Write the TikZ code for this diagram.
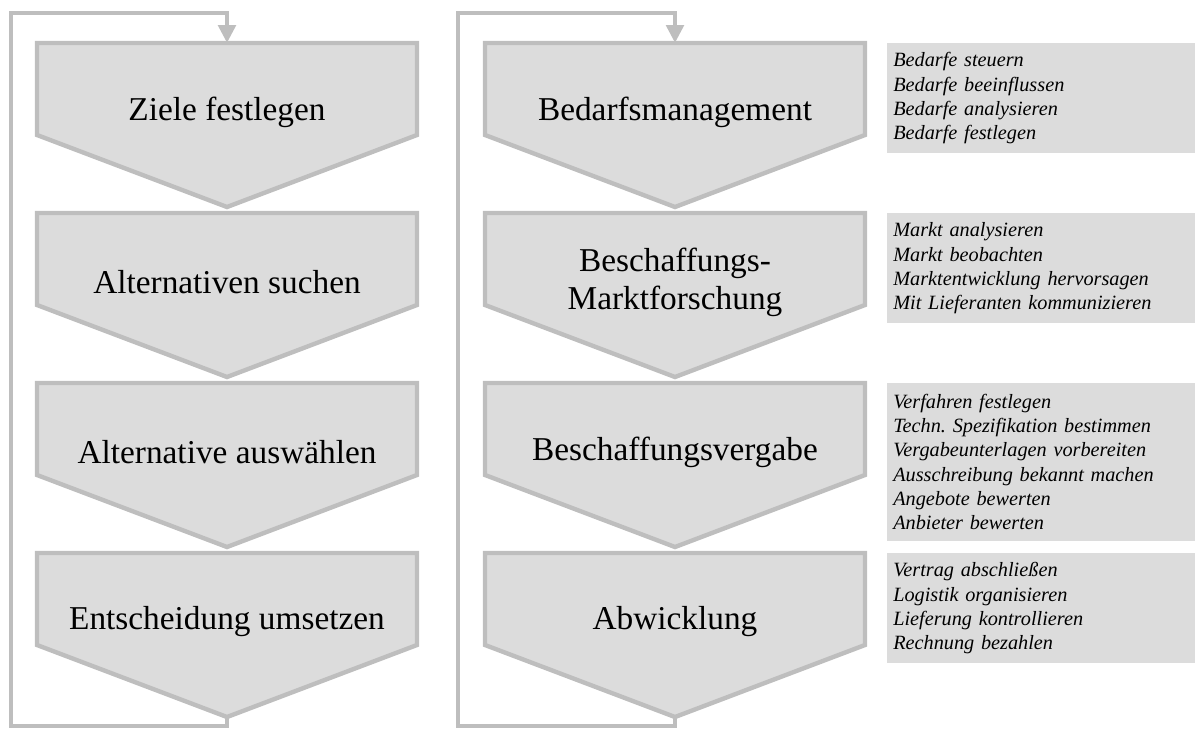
\documentclass[tikz,border=0pt]{standalone}
\usepackage{fontspec}
\setmainfont{Liberation Serif}
\usetikzlibrary{positioning}
\usetikzlibrary{arrows.meta}
\definecolor{boxfill}{HTML}{DCDCDC}
\definecolor{boxline}{HTML}{BEBEBE}
\tikzset{
	every node/.style = {font=\fontsize{25}{28.5}\selectfont},
	step box/.style = {fill=boxfill, draw=boxline, line width=3.3pt},
	step text/.style = {align=center},
	info box/.style = {fill=boxfill, anchor=north west, inner xsep=4.5pt, inner ysep=0pt,
		text width=222pt, align=left, font=\itshape\fontsize{15.2}{18.2}\selectfont},
	loop line/.style = {draw=boxline, line width=3.7pt, -{Triangle[width=13pt,length=13.5pt]}}
}

\begin{document}
\begin{tikzpicture}[x=0.75pt, y=-0.75pt]
		\useasboundingbox (0,0) rectangle (1195,729);
		% steps, left and right
		\foreach \c/\cx in {l/227, r/675} \foreach \i in {0,...,3} {
			\pgfmathsetmacro{\t}{43+170*\i}
			\draw[step box] (\cx-190,\t) -- (\cx+190,\t) -- (\cx+190,\t+92)
				-- (\cx,\t+164) -- (\cx-190,\t+92) -- cycle;
			\coordinate (top-\c\i) at (\cx,\t);
			\coordinate (tip-\c\i) at (\cx,\t+164);
		}
		
		% step labels
		\foreach \i/\name/\txt in {0/ziele/Ziele festlegen, 1/suchen/Alternativen suchen,
			2/auswahl/Alternative auswählen, 3/umsetzen/Entscheidung umsetzen}
			\node[step text] (\name) at (227,112+170*\i) {\txt};
		\foreach \i/\name/\txt in {0/bedarf/Bedarfsmanagement, 1/markt/{Beschaffungs-\\Marktforschung},
			2/vergabe/Beschaffungsvergabe, 3/abwicklung/Abwicklung}
			\node[step text] (\name) at (675,112+170*\i) {\txt};
		
		% feedback loops
		\coordinate (low-l) at (11,726);
		\coordinate (high-l) at (11,13);
		\coordinate (low-r) at (458,726);
		\coordinate (high-r) at (458,13);
		\draw[loop line] (tip-l3) |- (low-l) -- (high-l) -| (top-l0);
		\draw[loop line] (tip-r3) |- (low-r) -- (high-r) -| (top-r0);
		
		% tasks
		\node[info box, minimum height=82.5pt] (tasks-bedarf) at (887,43)
			{Bedarfe steuern\\Bedarfe beeinflussen\\Bedarfe analysieren\\Bedarfe festlegen};
		\node[info box, minimum height=82.5pt] (tasks-markt) at (887,213)
			{Markt analysieren\\Markt beobachten\\Marktentwicklung hervorsagen\\Mit Lieferanten kommunizieren};
		\node[info box, minimum height=118pt] (tasks-vergabe) at (887,383)
			{Verfahren festlegen\\Techn.\ Spezifikation bestimmen\\Vergabeunterlagen vorbereiten\\Ausschreibung bekannt machen\\Angebote bewerten\\Anbieter bewerten};
		\node[info box, minimum height=82.5pt] (tasks-abwicklung) at (887,553)
			{Vertrag abschließen\\Logistik organisieren\\Lieferung kontrollieren\\Rechnung bezahlen};
	\end{tikzpicture}
\end{document}
